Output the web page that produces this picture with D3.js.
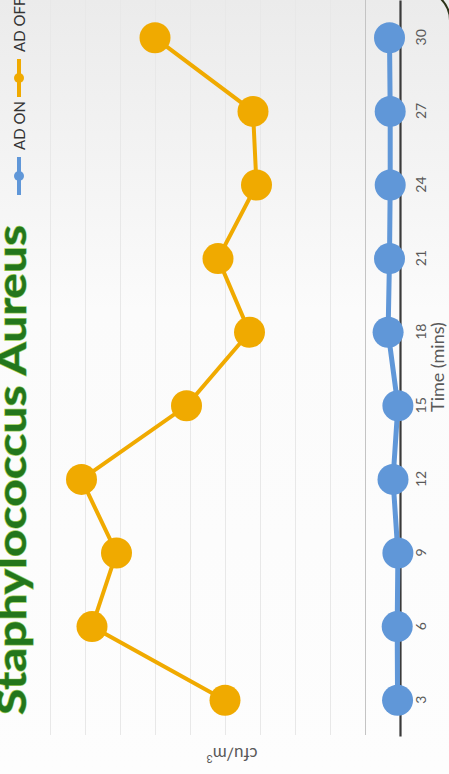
<!DOCTYPE html>
<html>
<head>
<meta charset="utf-8">
<script src="https://cdn.jsdelivr.net/npm/d3@7"></script>
<style>
  body { margin: 0; background: #fff; }
  svg { display: block; }
  .tick text { font-family: Lato, "Open Sans", sans-serif; fill: #595959; }
</style>
</head>
<body>
<svg id="chart" width="449" height="774"></svg>
<script>
/*------------------------
  -------- DATA ----------
  ------------------------*/
var times = [3, 6, 9, 12, 15, 18, 21, 24, 27, 30];
var ad_on = [0.7, 0.8, 0.6, 2, 0.6, 3.4, 3, 2.8, 2.8, 3];
var ad_off = [50, 88, 81, 91, 61, 43, 52, 41, 42, 70];
var series_names = ["AD ON", "AD OFF"];
var series_colors = ["#6097d8", "#f0aa00"];
var value_ticks = [0, 10, 20, 30, 40, 50, 60, 70, 80, 90, 100];

// chart is drawn upright (774 wide, 449 tall) then turned a quarter left
var W = 774, H = 449;
var svg = d3.select("#chart");

/*------------------------
  ----- BACKGROUND -------
  ------------------------*/
var defs = svg.append("defs");
var grad = defs.append("linearGradient")
    .attr("id", "bg")
    .attr("x1", 0).attr("y1", 0).attr("x2", 0).attr("y2", 1);
grad.append("stop").attr("offset", "0%").attr("stop-color", "#ebebeb");
grad.append("stop").attr("offset", "40%").attr("stop-color", "#fbfbfb");
grad.append("stop").attr("offset", "100%").attr("stop-color", "#fdfdfd");

svg.append("rect")
    .attr("width", 449).attr("height", 774)
    .attr("fill", "url(#bg)");

// edge of the rounded frame, just showing in the corner
svg.append("rect")
    .attr("x", -20).attr("y", -9.6)
    .attr("width", 470).attr("height", 900)
    .attr("rx", 30)
    .attr("fill", "none")
    .attr("stroke", "#2d3318")
    .attr("stroke-width", 2);

var g = svg.append("g")
    .attr("transform", "translate(0," + W + ") rotate(-90)");

/*------------------------
  ------- SCALES ---------
  ------------------------*/
var x = d3.scalePoint()
    .domain(times)
    .range([37, 773])
    .padding(0.5);

var y = d3.scaleLinear()
    .domain([0, 100])
    .range([400, 50]);

/*------------------------
  -------- GRID ----------
  ------------------------*/
var grid = g.append("g")
    .attr("transform", "translate(774,0)")
    .call(d3.axisLeft(y).tickValues(value_ticks).tickSize(774 - 39).tickFormat(""));
grid.select(".domain").remove();
grid.selectAll("line")
    .attr("stroke", function(d) { return d == 10 ? "#c4c4c4" : "#e8e8e8"; })
    .attr("stroke-width", 1);

/*------------------------
  -------- AXIS ----------
  ------------------------*/
var xa = g.append("g")
    .attr("transform", "translate(0,400)")
    .call(d3.axisBottom(x).tickSize(0).tickPadding(16));
xa.select(".domain")
    .attr("stroke", "#3a3a3a")
    .attr("stroke-width", 2.2);
xa.selectAll("text").attr("font-size", 14);

g.append("text")
    .attr("x", 407).attr("y", 444)
    .attr("text-anchor", "middle")
    .attr("font-family", "Lato, sans-serif")
    .attr("font-size", 18)
    .attr("fill", "#595959")
    .text("Time (mins)");

var yl = g.append("text")
    .attr("transform", "translate(26,232) rotate(-90)")
    .attr("text-anchor", "middle")
    .attr("font-family", "Lato, sans-serif")
    .attr("font-size", 17)
    .attr("fill", "#595959");
yl.append("tspan").text("cfu/m");
yl.append("tspan").attr("font-size", 11).attr("dy", -7).text("3");

/*------------------------
  ------- SERIES ---------
  ------------------------*/
var line = d3.line()
    .x(function(d, i) { return x(times[i]); })
    .y(function(d) { return y(d); });

function draw_series(vals, color, lw) {
    var s = g.append("g");
    s.append("path")
        .datum(vals)
        .attr("d", line)
        .attr("fill", "none")
        .attr("stroke", color)
        .attr("stroke-width", lw);
    s.selectAll("circle")
        .data(vals)
        .enter()
        .append("circle")
        .attr("cx", function(d, i) { return x(times[i]); })
        .attr("cy", y)
        .attr("r", 15.5)
        .attr("fill", color);
}

draw_series(ad_off, series_colors[1], 4);
draw_series(ad_on, series_colors[0], 5);

/*------------------------
  ------- TITLE ----------
  ------------------------*/
g.append("text")
    .attr("x", 59).attr("y", 26)
    .attr("font-family", "Lato, sans-serif")
    .attr("font-weight", 700)
    .attr("font-size", 40)
    .attr("textLength", 490)
    .attr("lengthAdjust", "spacingAndGlyphs")
    .attr("fill", "#23761c")
    .attr("stroke", "#9fd05a")
    .attr("stroke-width", 1.2)
    .attr("paint-order", "stroke")
    .text("Staphylococcus Aureus");

/*------------------------
  ------- LEGEND ---------
  ------------------------*/
var leg_x = [579, 677];
var leg = g.selectAll(".leg")
    .data(series_names)
    .enter()
    .append("g")
    .attr("class", "leg")
    .attr("transform", function(d, i) { return "translate(" + leg_x[i] + ",19)"; });

leg.append("line")
    .attr("x1", 0).attr("x2", 38)
    .attr("stroke", function(d, i) { return series_colors[i]; })
    .attr("stroke-width", 4);
leg.append("circle")
    .attr("cx", 19)
    .attr("r", 5)
    .attr("fill", function(d, i) { return series_colors[i]; });
leg.append("text")
    .attr("x", 45).attr("y", 6)
    .attr("font-family", "Lato, sans-serif")
    .attr("font-size", 15)
    .attr("fill", "#333")
    .text(function(d) { return d; });
</script>
</body>
</html>
